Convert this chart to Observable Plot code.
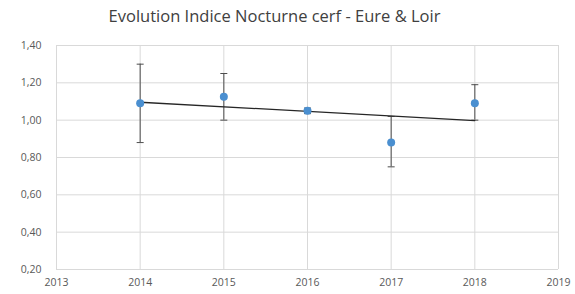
<!DOCTYPE html>
<html><head><meta charset="utf-8">
<script src="https://cdn.jsdelivr.net/npm/d3@7"></script>
<script src="https://cdn.jsdelivr.net/npm/@observablehq/plot@0.6"></script>
<style>
body{margin:0;background:#fff;width:575px;height:294px;overflow:hidden;font-family:"Open Sans",sans-serif;}
#title{height:32px;line-height:32px;text-align:center;font-size:16.5px;color:#404040;padding-right:26px;}
</style></head><body>
<div id="title">Evolution Indice Nocturne cerf - Eure &amp; Loir</div>
<div id="chart"></div>
<script>
const years = [2014, 2015, 2016, 2017, 2018];
const values = [1.09, 1.125, 1.05, 0.88, 1.09];
const lows = [0.88, 1.00, 1.035, 0.75, 1.00];
const highs = [1.30, 1.25, 1.065, 1.02, 1.19];
const xTicks = [2013, 2014, 2015, 2016, 2017, 2018, 2019];
const yTicks = [0.2, 0.4, 0.6, 0.8, 1.0, 1.2, 1.4];

const data = years.map((y, i) => ({year: y, value: values[i], low: lows[i], high: highs[i]}));
const capSymbol = {draw(ctx, size) { const r = 3.5; ctx.moveTo(-r, 0); ctx.lineTo(r, 0); }};

const chart = Plot.plot({
  width: 575, height: 262,
  marginTop: 13, marginBottom: 25, marginLeft: 56, marginRight: 17,
  style: {fontFamily: "Open Sans, sans-serif", fontSize: "10.5px", color: "#595959", background: "#fff"},
  x: {domain: [2013, 2019], ticks: xTicks, tickFormat: d => String(d), tickSize: 0, tickPadding: 9, label: null},
  y: {domain: [0.2, 1.4], ticks: yTicks, tickFormat: d => d.toFixed(2).replace(".", ","), tickSize: 0, tickPadding: 15, label: null},
  marks: [
    Plot.gridX(xTicks, {stroke: "#d9d9d9", strokeOpacity: 1, strokeWidth: 1}),
    Plot.gridY(yTicks, {stroke: "#d9d9d9", strokeOpacity: 1, strokeWidth: 1}),
    Plot.ruleX(data, {x: "year", y1: "low", y2: "high", stroke: "#4d4d4d", strokeWidth: 1}),
    Plot.dot(data, {x: "year", y: "low", symbol: capSymbol, stroke: "#4d4d4d", strokeWidth: 1, r: 4}),
    Plot.dot(data, {x: "year", y: "high", symbol: capSymbol, stroke: "#4d4d4d", strokeWidth: 1, r: 4}),
    Plot.linearRegressionY(data, {x: "year", y: "value", ci: 0, stroke: "#262626", strokeWidth: 1.3}),
    Plot.dot(data, {x: "year", y: "value", fill: "#4a8fd0", r: 4, stroke: null})
  ]
});
document.getElementById("chart").appendChild(chart);
</script>
</body></html>
